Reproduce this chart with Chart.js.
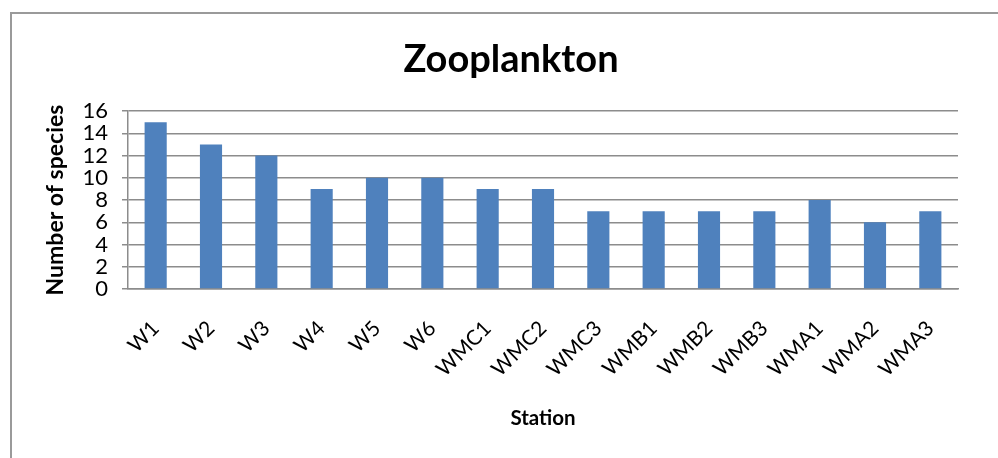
<!DOCTYPE html>
<html>
<head>
<meta charset="utf-8">
<script src="https://cdn.jsdelivr.net/npm/chart.js@4/dist/chart.umd.min.js"></script>
<style>
  html, body { margin: 0; padding: 0; background: #fff; }
  #wrap { width: 998px; height: 458px; position: relative; }
</style>
</head>
<body>
<div id="wrap"><canvas id="c" width="998" height="458"></canvas></div>
<script>
const stations = ['W1','W2','W3','W4','W5','W6','WMC1','WMC2','WMC3','WMB1','WMB2','WMB3','WMA1','WMA2','WMA3'];
const speciesCounts = [15,13,12,9,10,10,9,9,7,7,7,7,8,6,7];
const chartTitle = 'Zooplankton';
const xTitle = 'Station';
const yTitle = 'Number of species';
const yMin = 0, yMax = 16, yStep = 2;

const FONT = 'Lato, "Open Sans", sans-serif';

const framePlugin = {
  id: 'frame',
  beforeDraw(chart) {
    const ctx = chart.ctx;
    ctx.save();
    ctx.fillStyle = '#ffffff';
    ctx.fillRect(0, 0, chart.width, chart.height);
    ctx.strokeStyle = '#9a9a9a';
    ctx.lineWidth = 2;
    ctx.beginPath();
    ctx.moveTo(11, chart.height);
    ctx.lineTo(11, 13);
    ctx.lineTo(chart.width, 13);
    ctx.stroke();
    ctx.restore();
  },
  afterDraw(chart) {
    const ctx = chart.ctx;
    ctx.save();
    ctx.fillStyle = '#000';
    ctx.font = 'bold 38px ' + FONT;
    ctx.textAlign = 'center';
    ctx.textBaseline = 'middle';
    ctx.fillText(chartTitle, 511, 60);
    ctx.restore();
  }
};

new Chart(document.getElementById('c'), {
  type: 'bar',
  data: {
    labels: stations,
    datasets: [{
      data: speciesCounts,
      backgroundColor: '#4F81BD',
      borderWidth: 0,
      categoryPercentage: 1.0,
      barPercentage: 0.4
    }]
  },
  options: {
    responsive: false,
    animation: false,
    devicePixelRatio: 1,
    layout: { padding: { left: 0, right: 40, top: 111, bottom: 0 }, autoPadding: false },
    plugins: {
      legend: { display: false },
      title: { display: false },
      tooltip: { enabled: false }
    },
    scales: {
      x: {
        grid: { display: false, drawTicks: false },
        border: { display: true, color: '#8c8c8c', width: 1.5 },
        ticks: {
          color: '#000',
          font: { family: FONT, size: 21 },
          minRotation: 45, maxRotation: 45,
          autoSkip: false,
          padding: 27
        },
        title: {
          display: true, text: xTitle, color: '#000',
          font: { family: FONT, size: 20.5, weight: 'bold' },
          padding: { top: 0, bottom: 27 }
        },
        afterFit(scale) { scale.height = 458 - 289; }
      },
      y: {
        min: yMin, max: yMax,
        grid: { color: '#8c8c8c', lineWidth: 1.5, tickLength: 6, drawTicks: true },
        border: { display: true, color: '#8c8c8c', width: 1.5 },
        ticks: {
          stepSize: yStep,
          autoSkip: false,
          color: '#000',
          font: { family: FONT, size: 22 },
          padding: 14
        },
        title: {
          display: true, text: yTitle, color: '#000',
          font: { family: FONT, size: 23, weight: 'bold' },
          padding: { top: 42, bottom: 0 }
        },
        afterFit(scale) { scale.width = 128; }
      }
    }
  },
  plugins: [framePlugin]
});
</script>
</body>
</html>
